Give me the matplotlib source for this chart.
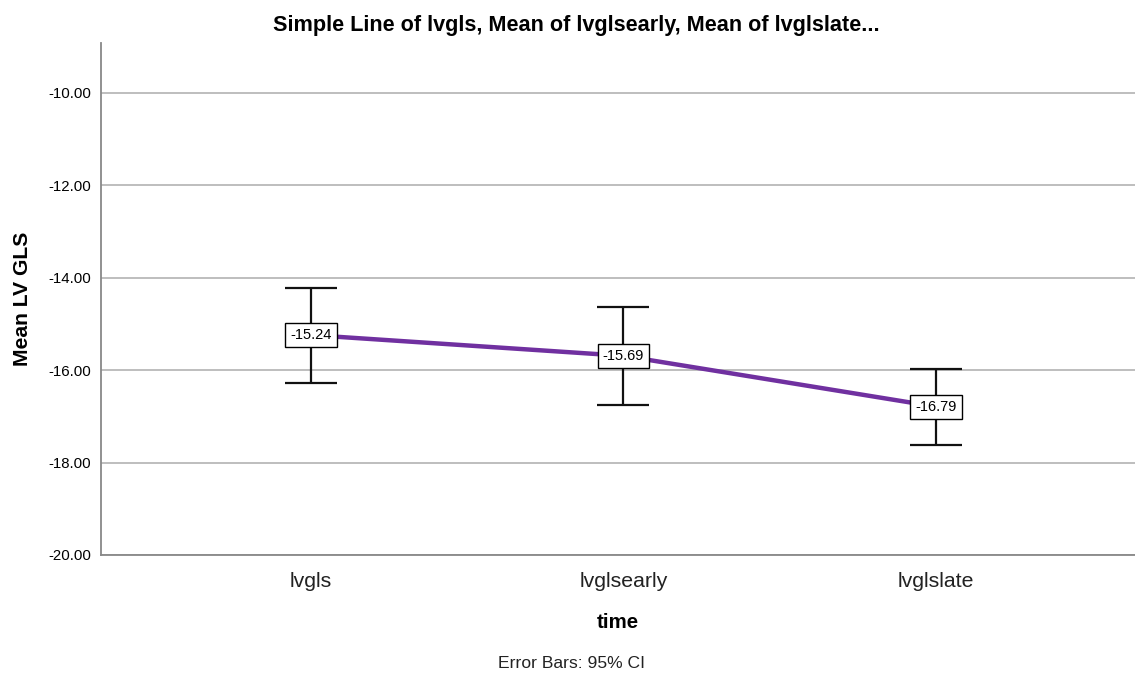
import matplotlib
matplotlib.use("Agg")
import matplotlib.pyplot as plt

plt.rcParams['font.family'] = ['Liberation Sans', 'DejaVu Sans']

categories = ["lvgls", "lvglsearly", "lvglslate"]
means = [-15.24, -15.69, -16.79]
ci_upper = [-14.22, -14.63, -15.97]
ci_lower = [-16.27, -16.75, -17.63]
y_ticks = [-20, -18, -16, -14, -12, -10]

W, H = 1135, 674
fig = plt.figure(figsize=(W / 100, H / 100), dpi=100)
ax = fig.add_axes([101 / W, 1 - 555 / H, (W - 101) / W, (555 - 43) / H])

x = list(range(len(categories)))

# horizontal gridlines
for t in y_ticks:
    ax.axhline(t, color="#b9b9b9", lw=1.3, zorder=0)

# error bars (95% CI)
yerr = [[m - lo for m, lo in zip(means, ci_lower)],
        [hi - m for m, hi in zip(means, ci_upper)]]
ax.errorbar(x, means, yerr=yerr, fmt="none", ecolor="#111111", elinewidth=1.6,
            capsize=18.7, capthick=1.6, zorder=2)

# mean line
ax.plot(x, means, color="#7030A0", lw=3.2, zorder=3, solid_capstyle="butt")

# value labels
for xi, m in zip(x, means):
    ax.text(xi, m, f"{m:.2f}", ha="center", va="center", fontsize=10.5,
            zorder=4,
            bbox=dict(boxstyle="square,pad=0.35", fc="white", ec="black", lw=1))

ax.set_xlim(-0.672, 2.637)
ax.set_ylim(-20, -8.92)
ax.set_yticks(y_ticks)
ax.set_yticklabels([f"{t:.2f}" for t in y_ticks], fontsize=10.8)
ax.set_xticks(x)
ax.set_xticklabels(categories, fontsize=15.3, color="#222222")
ax.tick_params(axis="x", length=0, pad=12)
ax.tick_params(axis="y", length=0, pad=7)

for s in ["top", "right"]:
    ax.spines[s].set_visible(False)
for s in ["left", "bottom"]:
    ax.spines[s].set_color("#888888")
    ax.spines[s].set_linewidth(1.3)

ax.set_ylabel("Mean LV GLS", fontsize=15.2, fontweight="bold", labelpad=12)
ax.set_xlabel("time", fontsize=14.8, fontweight="bold", labelpad=16)

fig.text(576 / W, 1 - 25 / H,
         "Simple Line of lvgls, Mean of lvglsearly, Mean of lvglslate...",
         ha="center", va="center", fontsize=15.6, fontweight="bold")

fig.text(572 / W, 1 - 663 / H, "Error Bars: 95% CI", ha="center", va="center",
         fontsize=12.6, color="#222222")

fig.savefig("out.png", dpi=100, facecolor="white")
